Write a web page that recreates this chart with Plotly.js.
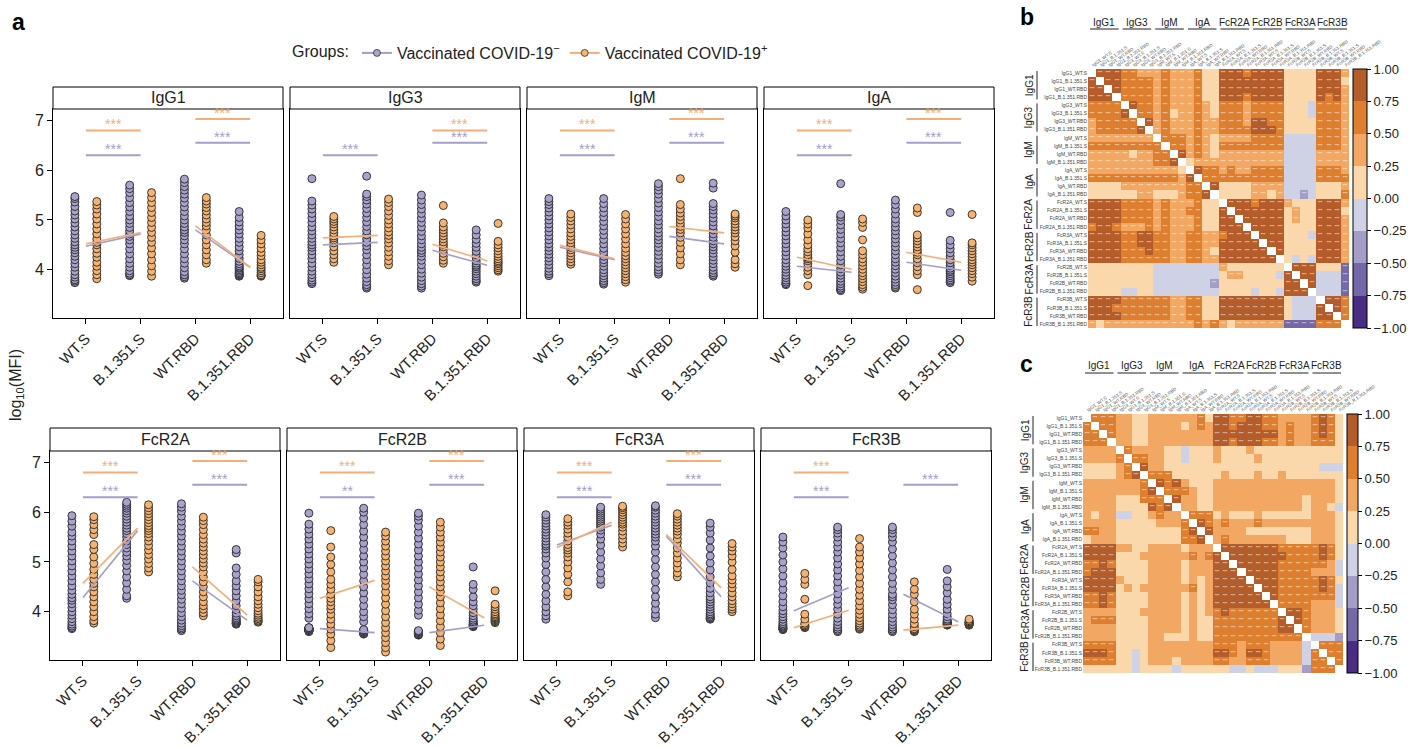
<!DOCTYPE html>
<html><head><meta charset="utf-8">
<script src="https://cdn.plot.ly/plotly-3.0.1.min.js"></script>
<style>body{margin:0;background:#fff}#chart{width:1408px;height:748px}</style>
</head><body><div id="chart"></div>
<script>
// ---------- DATA ----------
const categories = ['WT.S','B.1.351.S','WT.RBD','B.1.351.RBD'];
const panels = ['IgG1','IgG3','IgM','IgA','FcR2A','FcR2B','FcR3A','FcR3B'];
const groupNames = ['Vaccinated COVID-19<sup>−</sup>','Vaccinated COVID-19<sup>+</sup>'];

// log10(MFI) values per category [WT.S, B.1.351.S, WT.RBD, B.1.351.RBD]
const IgG1_neg = [
 [3.74,3.77,3.8,3.85,3.9,3.97,4.05,4.12,4.2,4.27,4.34,4.4,4.45,4.5,4.56,4.63,4.7,4.78,4.86,4.94,5.02,5.1,5.18,5.27,5.36,5.43,5.47],
 [3.88,3.9,3.93,3.98,4.05,4.13,4.22,4.32,4.42,4.52,4.6,4.67,4.72,4.78,4.85,4.93,5.0,5.08,5.17,5.26,5.35,5.45,5.55,5.63,5.7],
 [3.83,3.86,3.9,3.96,4.04,4.13,4.22,4.32,4.42,4.52,4.6,4.68,4.75,4.8,4.86,4.93,5.0,5.08,5.17,5.26,5.35,5.44,5.52,5.6,5.67,5.75,5.82],
 [3.87,3.88,3.9,3.92,3.94,3.97,4.0,4.03,4.05,4.08,4.12,4.17,4.23,4.3,4.38,4.46,4.55,4.63,4.72,4.8,4.88,4.96,5.05,5.17]];
const IgG1_pos = [
 [3.82,3.9,3.98,4.07,4.15,4.25,4.33,4.42,4.5,4.55,4.62,4.72,4.82,4.92,5.02,5.12,5.22,5.3,5.37],
 [3.87,3.97,4.08,4.2,4.32,4.44,4.55,4.65,4.75,4.85,4.95,5.05,5.15,5.25,5.35,5.45,5.55],
 [4.13,4.2,4.3,4.4,4.5,4.6,4.7,4.8,4.88,4.95,5.02,5.1,5.18,5.25,5.32,5.38,5.45],
 [3.87,3.88,3.9,3.94,3.98,4.02,4.05,4.1,4.15,4.2,4.28,4.35,4.43,4.52,4.6,4.69]];
const IgG3_neg = [
 [3.72,3.75,3.79,3.84,3.9,3.97,4.05,4.13,4.22,4.3,4.38,4.45,4.5,4.56,4.63,4.7,4.78,4.86,4.95,5.04,5.13,5.22,5.3,5.38,5.83],
 [3.63,3.66,3.7,3.76,3.83,3.91,4.0,4.1,4.2,4.3,4.4,4.48,4.55,4.62,4.7,4.78,4.87,4.96,5.05,5.14,5.23,5.32,5.4,5.47,5.52,5.88],
 [3.63,3.67,3.72,3.78,3.85,3.93,4.01,4.1,4.19,4.27,4.34,4.39,4.45,4.52,4.6,4.68,4.77,4.86,4.95,5.04,5.13,5.22,5.31,5.4,5.5],
 [3.75,3.78,3.82,3.87,3.92,3.97,4.02,4.06,4.09,4.13,4.18,4.24,4.3,4.37,4.45,4.53,4.61,4.7,4.8]];
const IgG3_pos = [
 [4.15,4.22,4.3,4.38,4.46,4.54,4.6,4.64,4.68,4.74,4.8,4.86,4.92,4.97,5.02,5.07],
 [4.1,4.18,4.27,4.36,4.45,4.54,4.62,4.69,4.76,4.84,4.92,5.0,5.09,5.18,5.27,5.35,5.42],
 [4.13,4.19,4.26,4.33,4.4,4.46,4.51,4.56,4.62,4.68,4.74,4.8,4.86,4.94,5.29],
 [3.97,4.0,4.04,4.08,4.12,4.15,4.18,4.22,4.27,4.32,4.38,4.44,4.5,4.57,4.93]];
const IgM_neg = [
 [3.88,3.92,3.97,4.03,4.1,4.17,4.24,4.31,4.38,4.45,4.52,4.6,4.68,4.76,4.84,4.92,5.0,5.08,5.16,5.24,5.31,5.37,5.43],
 [3.71,3.74,3.78,3.83,3.88,3.94,4.0,4.07,4.14,4.2,4.27,4.35,4.43,4.52,4.61,4.7,4.79,4.88,4.97,5.06,5.15,5.24,5.33,5.43],
 [3.91,3.95,4.0,4.06,4.13,4.21,4.29,4.37,4.45,4.53,4.6,4.67,4.74,4.82,4.9,4.98,5.07,5.16,5.25,5.34,5.43,5.52,5.6,5.67,5.73],
 [3.87,3.9,3.94,3.99,4.05,4.12,4.19,4.26,4.33,4.4,4.46,4.52,4.58,4.65,4.72,4.8,4.88,4.96,5.04,5.12,5.2,5.27,5.33,5.64,5.74]];
const IgM_pos = [
 [4.11,4.16,4.22,4.28,4.34,4.4,4.45,4.49,4.54,4.6,4.67,4.74,4.82,4.9,4.98,5.05,5.12],
 [3.75,3.8,3.86,3.92,3.98,4.04,4.1,4.16,4.22,4.28,4.35,4.43,4.52,4.62,4.72,4.82,4.92,5.02,5.11],
 [4.1,4.2,4.32,4.44,4.55,4.65,4.74,4.81,4.87,4.93,5.0,5.07,5.14,5.22,5.31,5.83],
 [4.05,4.12,4.2,4.35,4.48,4.58,4.66,4.74,4.8,4.86,4.92,4.98,5.04,5.08,5.12]];
const IgA_neg = [
 [3.7,3.72,3.75,3.79,3.84,3.89,3.95,4.01,4.07,4.13,4.2,4.28,4.36,4.44,4.52,4.6,4.68,4.76,4.84,4.92,5.0,5.08,5.17],
 [3.58,3.6,3.63,3.67,3.72,3.77,3.83,3.89,3.95,4.02,4.1,4.18,4.27,4.36,4.45,4.54,4.63,4.72,4.81,4.9,4.99,5.06,5.11,5.73],
 [3.63,3.66,3.7,3.75,3.81,3.87,3.94,4.01,4.08,4.15,4.22,4.3,4.38,4.46,4.54,4.62,4.7,4.78,4.86,4.94,5.02,5.12,5.22,5.31,5.4],
 [3.74,3.77,3.8,3.84,3.88,3.92,3.96,3.99,4.03,4.08,4.14,4.2,4.27,4.34,4.42,4.5,4.59,5.15]];
const IgA_pos = [
 [3.68,3.9,3.98,4.05,4.12,4.18,4.22,4.25,4.3,4.36,4.42,4.5,4.6,4.72,4.84,4.92,5.0],
 [3.61,3.65,3.7,3.76,3.82,3.88,3.94,4.01,4.08,4.15,4.22,4.3,4.38,4.6,4.85,4.95,5.02],
 [3.6,3.9,3.98,4.06,4.14,4.22,4.3,4.35,4.4,4.46,4.52,4.58,4.64,4.7,5.15,5.24],
 [3.77,3.85,3.92,3.98,4.04,4.1,4.15,4.2,4.26,4.32,4.38,4.44,4.5,4.54,5.11]];
const FcR2A_neg = [
 [3.66,3.68,3.71,3.75,3.8,3.86,3.93,4.0,4.08,4.16,4.23,4.28,4.35,4.43,4.52,4.62,4.72,4.82,4.92,5.02,5.12,5.22,5.32,5.42,5.52,5.6,5.72,5.82,5.93],
 [4.27,4.32,4.45,4.58,4.7,4.82,4.93,5.03,5.12,5.2,5.28,5.35,5.42,5.5,5.57,5.63,5.68,5.74,5.8,5.86,5.92,5.98,6.03,6.08,6.12,6.16,6.2],
 [3.62,3.65,3.68,3.72,3.77,3.83,3.9,3.98,4.07,4.16,4.25,4.34,4.43,4.52,4.62,4.72,4.82,4.92,5.02,5.12,5.22,5.32,5.42,5.52,5.62,5.72,5.82,5.92,6.02,6.1,6.17],
 [3.75,3.76,3.77,3.79,3.81,3.83,3.85,3.88,3.92,3.97,4.04,4.12,4.22,4.32,4.42,4.52,4.62,4.75,4.88,5.18,5.25]];
const FcR2A_pos = [
 [3.77,3.82,3.9,4.0,4.1,4.2,4.3,4.4,4.5,4.57,4.65,4.75,4.85,4.97,5.1,5.25,5.35,5.55,5.65,5.75,5.85,5.91],
 [4.8,4.88,4.97,5.06,5.15,5.24,5.33,5.42,5.5,5.57,5.63,5.68,5.73,5.79,5.85,5.91,5.97,6.03,6.09,6.15],
 [3.92,3.98,4.05,4.12,4.2,4.3,4.4,4.5,4.6,4.7,4.8,4.9,4.98,5.06,5.14,5.22,5.3,5.38,5.46,5.55,5.65,5.75,5.83,5.9],
 [3.79,3.81,3.83,3.86,3.89,3.93,3.97,4.02,4.08,4.15,4.22,4.3,4.4,4.5,4.6,4.65]];
const FcR2B_neg = [
 [3.6,3.61,3.62,3.62,3.63,3.63,3.64,3.64,3.65,3.65,3.66,3.66,3.67,3.67,3.68,3.68,3.87,3.96,4.06,4.16,4.26,4.36,4.46,4.56,4.66,4.76,4.86,4.96,5.06,5.16,5.26,5.36,5.46,5.56,5.66,5.76,5.98],
 [3.55,3.56,3.57,3.57,3.58,3.58,3.59,3.59,3.6,3.6,3.61,3.61,3.62,3.62,3.63,3.64,3.8,3.9,4.0,4.12,4.25,4.38,4.5,4.62,4.75,4.88,5.0,5.12,5.25,5.38,5.5,5.62,5.75,5.88,6.0,6.08],
 [3.53,3.54,3.55,3.55,3.56,3.56,3.57,3.57,3.58,3.58,3.59,3.59,3.6,3.6,3.61,3.62,3.93,4.03,4.15,4.28,4.4,4.52,4.64,4.76,4.88,5.0,5.12,5.24,5.36,5.48,5.6,5.72,5.84,5.92,5.98],
 [3.7,3.71,3.72,3.73,3.74,3.75,3.76,3.78,3.8,3.83,3.87,3.92,3.98,4.05,4.12,4.2,4.3,4.45,4.55,4.9]];
const FcR2B_pos = [
 [3.28,3.42,3.55,3.65,3.75,3.85,3.95,4.05,4.12,4.2,4.27,4.35,4.45,4.55,4.65,4.8,4.95,5.1,5.3,5.63],
 [3.19,3.28,3.38,3.48,3.58,3.68,3.78,3.9,4.02,4.15,4.28,4.4,4.52,4.63,4.72,4.82,4.92,5.02,5.12,5.22,5.32,5.42,5.52,5.6],
 [3.32,3.45,3.58,3.7,3.82,3.94,4.06,4.18,4.3,4.4,4.5,4.6,4.7,4.8,4.9,5.0,5.1,5.2,5.3,5.4,5.5,5.6,5.7,5.8],
 [3.78,3.8,3.82,3.84,3.86,3.88,3.9,3.93,3.96,4.0,4.05,4.1,4.15,4.42]];
const FcR3A_neg = [
 [3.85,3.92,4.0,4.1,4.22,4.35,4.5,4.65,4.8,4.95,5.08,5.18,5.26,5.32,5.36,5.42,5.48,5.54,5.6,5.66,5.72,5.78,5.84,5.9,5.95],
 [4.55,4.65,4.78,4.92,5.06,5.2,5.34,5.46,5.56,5.64,5.7,5.74,5.78,5.82,5.86,5.9,5.94,5.98,6.02,6.06,6.1],
 [3.88,3.95,4.05,4.17,4.3,4.45,4.6,4.75,4.9,5.05,5.2,5.32,5.42,5.5,5.56,5.62,5.68,5.74,5.8,5.86,5.92,5.98,6.04,6.1,6.13],
 [3.85,3.86,3.88,3.9,3.93,3.96,4.0,4.05,4.1,4.15,4.2,4.25,4.3,4.38,4.47,4.58,4.7,4.84,4.98,5.12,5.28,5.44,5.58,5.7,5.78]];
const FcR3A_pos = [
 [4.32,4.4,4.6,4.75,4.88,5.0,5.1,5.18,5.24,5.29,5.35,5.42,5.5,5.58,5.66,5.74,5.8,5.87],
 [5.3,5.38,5.46,5.54,5.62,5.7,5.76,5.8,5.85,5.9,5.95,6.0,6.05,6.09,6.12],
 [4.7,4.78,4.88,4.98,5.08,5.18,5.28,5.38,5.46,5.55,5.62,5.68,5.74,5.8,5.86,5.92,5.97],
 [4.0,4.05,4.1,4.16,4.22,4.3,4.38,4.48,4.56,4.64,4.72,4.85,5.0,5.12,5.22,5.3,5.37]];
const FcR3B_neg = [
 [3.64,3.65,3.66,3.67,3.69,3.71,3.73,3.76,3.8,3.85,3.9,3.96,4.02,4.1,4.2,4.32,4.45,4.58,4.72,4.86,5.0,5.14,5.28,5.4,5.5],
 [3.6,3.62,3.65,3.69,3.74,3.8,3.87,3.95,4.05,4.15,4.25,4.36,4.48,4.6,4.72,4.84,4.96,5.08,5.2,5.3,5.4,5.5,5.58,5.65,5.7],
 [3.6,3.62,3.65,3.69,3.74,3.8,3.87,3.95,4.04,4.14,4.24,4.3,4.35,4.45,4.57,4.7,4.84,4.98,5.12,5.26,5.4,5.5,5.58,5.65,5.7],
 [3.73,3.74,3.75,3.76,3.77,3.78,3.79,3.8,3.82,3.85,3.9,3.96,4.05,4.15,4.25,4.38,4.5,4.62,4.85]];
const FcR3B_pos = [
 [3.68,3.69,3.7,3.71,3.72,3.74,3.77,3.85,3.95,4.25,4.55,4.65,4.77],
 [3.65,3.66,3.68,3.7,3.73,3.77,3.82,3.88,3.95,4.03,4.12,4.22,4.33,4.45,4.57,4.7,4.83,4.96,5.08,5.2,5.3,5.47],
 [3.6,3.61,3.62,3.63,3.64,3.66,3.7,3.76,3.85,3.95,4.05,4.2,4.35,4.45,4.6],
 [3.73,3.74,3.75,3.76,3.77,3.78,3.79,3.8,3.82,3.85]];

// group medians drawn as connecting lines [WT.S, B.1.351.S, WT.RBD, B.1.351.RBD]
const medNeg = [[4.47,4.72,4.8,4.05],[4.5,4.55,4.39,4.09],[4.45,4.2,4.67,4.52],[4.07,3.95,4.15,3.99],
                [4.28,5.63,4.62,3.83],[3.66,3.58,3.58,3.73],[5.34,5.74,5.52,4.3],[4.02,4.48,4.35,3.8]];
const medPos = [[4.52,4.75,4.88,4.05],[4.64,4.69,4.51,4.18],[4.49,4.22,4.87,4.74],[4.25,4.01,4.35,4.15],
                [4.57,5.68,4.9,3.93],[4.27,4.63,4.5,3.88],[5.29,5.8,5.55,4.48],[3.68,4.03,3.63,3.73]];
// significance labels [S pair, RBD pair]
const sigNeg = [['***','***'],['***','***'],['***','***'],['***','***'],['***','***'],['**','***'],['***','***'],['***','***']];
const sigPos = [['***','***'],['','***'],['***','***'],['***','***'],['***','***'],['***','***'],['***','***'],['***','']];

// correlation heatmaps: digit = bin (1:-1..-0.75 ... 8:0.75..1), 0 = diagonal
const antigenRows = ['IgG1','IgG3','IgM','IgA','FcR2A','FcR3A','FcR2B','FcR3B'];
const bracketLabels = ['IgG1','IgG3','IgM','IgA','FcR2A','FcR2B','FcR3A','FcR3B'];
const corrB = [
'0888 7766 6766 6755 8887 8888 5555 8886','8088 7777 6766 6755 8888 8888 5555 8885',
'8808 7777 6766 6755 8888 8888 5555 8886','8880 7777 6766 6755 8887 8888 5555 8786',
'7777 0877 6766 6765 7776 7777 5554 7776','7777 8077 6756 6765 7776 7777 5554 7776',
'6777 7708 6766 6766 7776 8877 5555 7776','6777 7780 6766 6766 7777 8887 5555 7776',
'6666 6666 0777 6765 6666 7777 4444 7776','7777 7777 7077 6765 7777 7777 4444 7776',
'6666 6666 7708 6765 6666 6666 4444 6666','6666 6556 7780 5666 6666 6666 4444 6666',
'6666 6666 6765 0877 6766 7777 4444 7776','7666 6766 7766 8077 7777 7777 4444 7777',
'5555 5655 6566 7708 5555 6666 4444 5556','5555 5566 5666 7780 5555 6656 4434 5557',
'8888 7777 6766 6755 0888 7888 6555 8886','8888 7777 6766 6755 8088 8888 5655 8885',
'8888 7777 6766 6755 8808 8888 5655 8886','7887 6677 6766 6755 8880 8888 5555 8886',
'8888 7777 6766 6755 7888 0888 5554 8886','8888 7777 6766 6755 8888 8088 5555 8886',
'8888 7787 6766 6755 8888 8808 5555 8886','8888 7787 6766 6755 8888 8880 5454 8886',
'5555 5555 4444 4444 6555 5555 0888 5552','5555 5555 4444 4444 5655 5554 8088 4442',
'5555 5555 4444 4443 5655 5555 8808 4442','5555 4455 4444 4444 5555 5445 8880 4442',
'8886 7777 7766 6756 8888 8888 5444 0887','8886 7777 7766 6756 8888 8888 5444 8087',
'8888 7777 6666 6656 8888 8888 5444 8807','6556 6666 6666 6567 6556 6666 2222 7770'];
const corrC = [
'0777 6655 6666 6675 8877 8877 6666 7875','7077 6655 6666 5676 8878 8877 6766 7875',
'7707 6655 6666 6666 8888 8888 6766 7875','7770 6655 6666 6666 8878 8877 6766 7775',
'6666 0766 6655 4555 6555 6555 5555 5555','6666 7077 6655 4555 6555 5655 5555 5555',
'5555 6708 6655 5555 5555 5555 5555 5444','5555 6780 7775 5555 5655 5655 6555 5555',
'6666 6667 0878 6555 6666 6666 6666 6665','6666 6667 8077 7655 6666 6666 6666 6665',
'6666 6667 7708 6655 6666 6666 6665 6665','6666 5567 8780 6655 6666 6666 6665 6654',
'6666 4455 6555 0777 5655 5655 5555 6665','7666 5555 6755 7087 6766 6766 6666 6665',
'6666 5655 5655 7808 6666 5555 5555 6665','6666 5555 5555 7780 6766 6666 6555 6665',
'8888 5555 6666 6766 0888 8888 7777 7875','8887 6666 6666 6766 8088 8888 8777 7875',
'7777 6666 6666 6766 8808 8888 7777 7764','8888 6666 6666 6766 8880 8888 7777 6664',
'8888 6555 6666 6766 8888 0888 7777 7875','8888 6655 6666 6766 8888 8088 7777 7874',
'7888 5555 6666 6766 8888 8808 7777 7774','7788 5555 6666 6766 8888 8880 7777 6664',
'7777 5555 6655 6666 7777 7777 0887 6665','7777 5555 6655 6666 7877 7777 8087 6665',
'7777 5555 6655 6666 7777 7777 8807 6665','5555 5555 5555 5555 5655 5555 7770 4443',
'7777 5545 6655 6666 7766 7766 6654 0777','7777 5545 6655 6666 7766 7766 6654 7077',
'7777 5545 6655 6666 7766 7766 6654 7707','5555 5545 5555 5655 5544 4444 4443 7770'];

// ---------- BUILD ----------
const W=1408,H=748, px=v=>v/W, py=v=>1-v/H;
const FONT='"Liberation Sans", Arial, Helvetica, sans-serif';
const PURPLE='#a8a2cd', ORANGE='#f6b26f', PLINE='#a49ecb', OLINE='#f4ae77';
const negData=[IgG1_neg,IgG3_neg,IgM_neg,IgA_neg,FcR2A_neg,FcR2B_neg,FcR3A_neg,FcR3B_neg];
const posData=[IgG1_pos,IgG3_pos,IgM_pos,IgA_pos,FcR2A_pos,FcR2B_pos,FcR3A_pos,FcR3B_pos];
const xDom=[[53,283],[290,520],[527,757],[764,994],[50,280],[287,517],[524,754],[761,991]];
const yDom=[[109,318],[451,660]];
const hdr=[[87,109],[428,451]];
const sigH = {S:{neg:6.3,pos:6.8},R:{neg:6.55,pos:7.03}};

const traces=[], annotations=[], shapes=[];
const layout={width:W,height:H,margin:{l:0,r:0,t:0,b:0},paper_bgcolor:'#fff',plot_bgcolor:'#fff',
  font:{family:FONT,color:'#222'},showlegend:true,boxmode:'group',boxgap:0.2,boxgroupgap:0,
  legend:{orientation:'h',x:px(290),y:py(36),xanchor:'left',yanchor:'top',font:{size:16,family:FONT},
    title:{text:'Groups:',side:'left',font:{size:16}},itemwidth:30,bgcolor:'rgba(0,0,0,0)'}};

panels.forEach((name,p)=>{
  const n=p+1, xs=n===1?'':n, xa='x'+xs, ya='y'+xs, row=p<4?0:1;
  [[negData[p],PURPLE,'neg'],[posData[p],ORANGE,'pos']].forEach(([d,col,g])=>{
    const X=[],Y=[];
    d.forEach((arr,i)=>arr.forEach(v=>{X.push(categories[i]);Y.push(v);}));
    traces.push({type:'box',x:X,y:Y,xaxis:xa,yaxis:ya,offsetgroup:g,boxpoints:'all',jitter:0,pointpos:0,
      marker:{color:col,size:8,line:{color:'#262626',width:0.9}},line:{width:0,color:'rgba(0,0,0,0)'},
      fillcolor:'rgba(0,0,0,0)',whiskerwidth:0,showlegend:false,hoveron:'points'});
  });
  [[medNeg[p],PLINE],[medPos[p],OLINE]].forEach(([m,col])=>{
    [[0,1],[2,3]].forEach(([a,b])=>traces.push({type:'scatter',mode:'lines',x:[categories[a],categories[b]],y:[m[a],m[b]],
      xaxis:xa,yaxis:ya,line:{color:col,width:1.6},showlegend:false,hoverinfo:'skip'}));
  });
  [['neg',sigNeg[p],PLINE],['pos',sigPos[p],OLINE]].forEach(([g,s,col])=>{
    [['S',0,1],['R',2,3]].forEach(([k,a,b],j)=>{
      if(!s[j]) return;
      let h=sigH[k][g];
      if(k==='R'&&g==='pos'&&!sigPos[p][0]) h=sigH.S.pos;
      traces.push({type:'scatter',mode:'lines',x:[categories[a],categories[b]],y:[h,h],xaxis:xa,yaxis:ya,
        line:{color:col,width:2},showlegend:false,hoverinfo:'skip'});
      annotations.push({xref:xa,yref:ya,x:(a+b)/2,y:h,text:s[j],showarrow:false,yanchor:'bottom',yshift:-4,
        font:{size:14,color:col}});
    });
  });
  layout['xaxis'+xs]={domain:[px(xDom[p][0]),px(xDom[p][1])],anchor:ya,type:'category',categoryorder:'array',
    categoryarray:categories,range:[-0.6,3.6],showline:true,mirror:true,linecolor:'#000',linewidth:1,
    ticks:'outside',ticklen:5,tickcolor:'#000',tickangle:-45,tickfont:{size:15,color:'#222'},
    showgrid:false,zeroline:false,fixedrange:true};
  layout['yaxis'+xs]={domain:[py(yDom[row][1]),py(yDom[row][0])],anchor:xa,range:[3.03,7.23],
    tickvals:[4,5,6,7],showticklabels:p%4===0,ticks:p%4===0?'outside':'',ticklen:5,tickcolor:'#000',
    showline:true,mirror:true,linecolor:'#000',linewidth:1,showgrid:false,zeroline:false,
    tickfont:{size:16,color:'#222'},fixedrange:true};
  shapes.push({type:'rect',xref:'paper',yref:'paper',x0:px(xDom[p][0]),x1:px(xDom[p][1]),y0:py(hdr[row][1]),y1:py(hdr[row][0]),
    line:{color:'#000',width:1},fillcolor:'#fff'});
  annotations.push({xref:'paper',yref:'paper',x:px((xDom[p][0]+xDom[p][1])/2),y:py((hdr[row][0]+hdr[row][1])/2),
    text:name,showarrow:false,font:{size:16,color:'#222'},xanchor:'center',yanchor:'middle'});
});

// legend entries
[[PURPLE,PLINE],[ORANGE,OLINE]].forEach(([c,l],i)=>traces.push({type:'scatter',mode:'lines+markers',x:[null],y:[null],
  name:groupNames[i],line:{color:l,width:2},marker:{color:c,size:7,line:{color:'#333',width:0.8}},hoverinfo:'skip'}));

// heatmaps
const binVal=[null,-0.875,-0.625,-0.375,-0.125,0.125,0.375,0.625,0.875];
function decode(rows){
  const m=rows.map(r=>r.replace(/\s/g,'').split('').map(Number));
  return m.map((r,i)=>r.map((_,j)=>i===j?null:binVal[m[Math.min(i,j)][Math.max(i,j)]]));
}
const hmLabels=antigenRows.flatMap(a=>categories.map(c=>a+'_'+c));
const cs=[[0,'#4a2c82'],[0.125,'#4a2c82'],[0.125,'#7568a8'],[0.25,'#7568a8'],[0.25,'#a39dc8'],[0.375,'#a39dc8'],
  [0.375,'#cfd1e4'],[0.5,'#cfd1e4'],[0.5,'#fbd8ac'],[0.625,'#fbd8ac'],[0.625,'#f2a862'],[0.75,'#f2a862'],
  [0.75,'#dd7f2e'],[0.875,'#dd7f2e'],[0.875,'#b45d2a'],[1,'#b45d2a']];
const hms=[
  {rows:corrB,ax:9,x:[1088,1349],y:[69,328],cbx:1353,cbt:14,thr:0.25,topY:[22,29],leftX:[1029,1037]},
  {rows:corrC,ax:10,x:[1083,1343],y:[414,673],cbx:1347,cbt:11,thr:0.5,topY:[366,373],leftX:[1025,1033]}];
hms.forEach(h=>{
  const z=decode(h.rows);
  const txt=z.map(r=>r.map(v=>v!==null&&Math.abs(v)>=h.thr?'***':''));
  const xa='x'+h.ax, ya='y'+h.ax;
  traces.push({type:'heatmap',z:z,x:hmLabels,y:hmLabels,xaxis:xa,yaxis:ya,colorscale:cs,zmin:-1,zmax:1,
    text:txt,texttemplate:'%{text}',textfont:{size:4,color:'#fff'},hoverongaps:false,showlegend:false,
    colorbar:{x:px(h.cbx),xanchor:'left',y:py((h.y[0]+h.y[1])/2),yanchor:'middle',len:h.y[1]-h.y[0],lenmode:'pixels',
      thickness:h.cbt,xpad:0,ypad:0,outlinewidth:1,outlinecolor:'#000',tickvals:[-1,-0.75,-0.5,-0.25,0,0.25,0.5,0.75,1],
      tickformat:'.2f',ticks:'outside',ticklen:4,tickcolor:'#000',tickfont:{size:13,color:'#222'}}});
  layout['xaxis'+h.ax]={domain:[px(h.x[0]),px(h.x[1])],anchor:ya,side:'top',type:'category',tickangle:-35,
    tickfont:{size:4.5,color:'#555'},ticks:'',showgrid:false,zeroline:false,showline:false,fixedrange:true};
  layout['yaxis'+h.ax]={domain:[py(h.y[1]),py(h.y[0])],anchor:xa,type:'category',autorange:'reversed',
    tickfont:{size:5,color:'#444'},ticks:'',showgrid:false,zeroline:false,showline:false,fixedrange:true};
  const cw=(h.x[1]-h.x[0])/32, ch=(h.y[1]-h.y[0])/32;
  bracketLabels.forEach((g,k)=>{
    const x0=h.x[0]+4*k*cw, y0=h.y[0]+4*k*ch;
    annotations.push({xref:'paper',yref:'paper',x:px(x0+2*cw),y:py(h.topY[0]),text:g,showarrow:false,
      font:{size:10,color:'#222'},xanchor:'center',yanchor:'middle'});
    shapes.push({type:'line',xref:'paper',yref:'paper',x0:px(x0+2),x1:px(x0+4*cw-2),y0:py(h.topY[1]),y1:py(h.topY[1]),line:{color:'#222',width:1}});
    annotations.push({xref:'paper',yref:'paper',x:px(h.leftX[0]),y:py(y0+2*ch),text:g,showarrow:false,textangle:-90,
      font:{size:10,color:'#222'},xanchor:'center',yanchor:'middle'});
    shapes.push({type:'line',xref:'paper',yref:'paper',x0:px(h.leftX[1]),x1:px(h.leftX[1]),y0:py(y0+2),y1:py(y0+4*ch-2),line:{color:'#222',width:1}});
  });
});

// titles and panel letters
annotations.push({xref:'paper',yref:'paper',x:px(17),y:py(385),text:'log<sub>10</sub>(MFI)',textangle:-90,showarrow:false,
  font:{size:16,color:'#222'},xanchor:'center',yanchor:'middle'});
[['a',10,22],['b',1018,17],['c',1018,364]].forEach(([t,x,y])=>annotations.push({xref:'paper',yref:'paper',x:px(x),y:py(y),
  text:'<b>'+t+'</b>',showarrow:false,font:{size:23,color:'#000'},xanchor:'left',yanchor:'middle'}));

layout.annotations=annotations; layout.shapes=shapes;
Plotly.newPlot('chart',traces,layout,{displayModeBar:false});
</script></body></html>
